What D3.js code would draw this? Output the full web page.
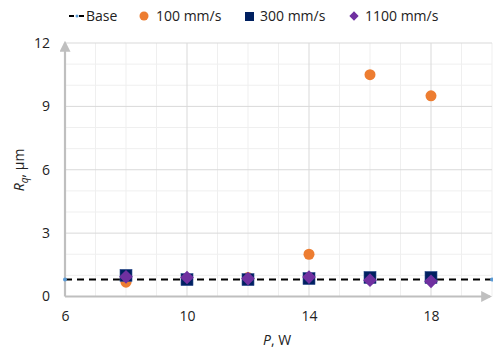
<!DOCTYPE html>
<html>
<head>
<meta charset="utf-8">
<script src="https://cdn.jsdelivr.net/npm/d3@7"></script>
<style>
  body { margin: 0; background: #fff; }
  svg text { font-family: "Open Sans", "Liberation Sans", sans-serif; fill: #222; }
</style>
</head>
<body>
<div id="chart"></div>
<script>
// ---- data ----
const powers = [8, 10, 12, 14, 16, 18];
const baseX = [6, 20];
const baseY = 0.8;
const v100 = [0.68, 0.8, 0.9, 2.0, 10.5, 9.5];
const v300 = [1.0, 0.8, 0.8, 0.85, 0.9, 0.9];
const v1100 = [0.93, 0.9, 0.85, 0.92, 0.77, 0.72];
const xTicks = [6, 10, 14, 18];
const yTicks = [0, 3, 6, 9, 12];

const W = 493, H = 349;
const svg = d3.select('#chart').append('svg').attr('width', W).attr('height', H);

const x = d3.scaleLinear().domain([6, 20]).range([65, 492]);
const y = d3.scaleLinear().domain([0, 12]).range([296.5, 43]);

// Grid
const minorX = d3.range(7, 21, 1).filter(d => (d - 6) % 4 !== 0);
const minorY = d3.range(1, 12.5, 1).filter(d => d % 3 !== 0);
svg.append('g').selectAll('line').data(minorX).enter().append('line')
  .attr('x1', d => x(d)).attr('x2', d => x(d)).attr('y1', y(0)).attr('y2', y(12))
  .attr('stroke', '#efefef').attr('stroke-width', 1);
svg.append('g').selectAll('line').data(minorY).enter().append('line')
  .attr('x1', x(6)).attr('x2', x(20)).attr('y1', d => y(d)).attr('y2', d => y(d))
  .attr('stroke', '#efefef').attr('stroke-width', 1);
svg.append('g').selectAll('line').data(xTicks.slice(1)).enter().append('line')
  .attr('x1', d => x(d)).attr('x2', d => x(d)).attr('y1', y(0)).attr('y2', y(12))
  .attr('stroke', '#d9d9d9').attr('stroke-width', 1);
svg.append('g').selectAll('line').data(yTicks.slice(1)).enter().append('line')
  .attr('x1', x(6)).attr('x2', x(20)).attr('y1', d => y(d)).attr('y2', d => y(d))
  .attr('stroke', '#d9d9d9').attr('stroke-width', 1);

// Axes with arrows
const defs = svg.append('defs');
defs.append('marker').attr('id', 'arr').attr('viewBox', '0 0 10 10')
  .attr('refX', 8).attr('refY', 5).attr('markerWidth', 5).attr('markerHeight', 5)
  .attr('orient', 'auto').append('path').attr('d', 'M0,0 L10,5 L0,10 Z').attr('fill', '#bfbfbf');
svg.append('line').attr('x1', x(6)).attr('x2', x(20) - 2).attr('y1', y(0)).attr('y2', y(0))
  .attr('stroke', '#bfbfbf').attr('stroke-width', 2.2).attr('marker-end', 'url(#arr)');
svg.append('line').attr('x1', x(6)).attr('x2', x(6)).attr('y1', y(0)).attr('y2', y(12))
  .attr('stroke', '#bfbfbf').attr('stroke-width', 2.2).attr('marker-end', 'url(#arr)');

// Tick labels
svg.append('g').attr('transform', `translate(0,${y(0) + 10})`)
  .call(d3.axisBottom(x).tickValues(xTicks).tickSize(0).tickPadding(5))
  .call(g => g.select('.domain').remove())
  .selectAll('text').style('font-size', '14px').style('fill', '#222');
svg.append('g').attr('transform', `translate(${x(6) - 15},0)`)
  .call(d3.axisLeft(y).tickValues(yTicks).tickSize(0).tickPadding(0))
  .call(g => g.select('.domain').remove())
  .selectAll('text').style('font-size', '14px').style('fill', '#222');

// Axis titles
const xt = svg.append('text').attr('x', 277).attr('y', 345).attr('text-anchor', 'middle').style('font-size', '14px');
xt.append('tspan').style('font-style', 'italic').text('P');
xt.append('tspan').text(', W');
const yt = svg.append('text').attr('transform', 'translate(24,170) rotate(-90)').attr('text-anchor', 'middle').style('font-size', '14px');
yt.append('tspan').style('font-style', 'italic').text('R');
yt.append('tspan').style('font-style', 'italic').attr('dy', 4).style('font-size', '10px').text('q');
yt.append('tspan').attr('dy', -4).text(', µm');

// Base line
const line = d3.line().x(d => x(d)).y(() => y(baseY));
svg.append('path').datum(baseX).attr('d', line).attr('fill', 'none')
  .attr('stroke', '#000').attr('stroke-width', 2).attr('stroke-dasharray', '7,5');
svg.selectAll('.bdot').data(baseX).enter().append('circle')
  .attr('cx', d => x(d)).attr('cy', y(baseY)).attr('r', 2).attr('fill', '#5b9bd5');

// Points
const pts = (arr) => powers.map((p, i) => ({ p, v: arr[i] }));
svg.append('g').selectAll('circle').data(pts(v100)).enter().append('circle')
  .attr('cx', d => x(d.p)).attr('cy', d => y(d.v)).attr('r', 5.5).attr('fill', '#ed7d31');
svg.append('g').selectAll('rect').data(pts(v300)).enter().append('rect')
  .attr('x', d => x(d.p) - 6).attr('y', d => y(d.v) - 6).attr('width', 12).attr('height', 12)
  .attr('fill', '#002060').attr('stroke', '#2f4f8f').attr('stroke-width', 0.6);
const diamond = d3.symbol().type(d3.symbolDiamond2).size(120);
svg.append('g').selectAll('path').data(pts(v1100)).enter().append('path')
  .attr('transform', d => `translate(${x(d.p)},${y(d.v)})`).attr('d', diamond).attr('fill', '#7030a0');

// Legend
const lg = svg.append('g').style('font-size', '14px');
lg.append('line').attr('x1', 69).attr('x2', 74).attr('y1', 16).attr('y2', 16).attr('stroke', '#000').attr('stroke-width', 2);
lg.append('line').attr('x1', 79).attr('x2', 84).attr('y1', 16).attr('y2', 16).attr('stroke', '#000').attr('stroke-width', 2);
lg.append('circle').attr('cx', 77).attr('cy', 16).attr('r', 1.5).attr('fill', '#5b9bd5');
lg.append('text').attr('x', 86).attr('y', 21).text('Base');
lg.append('circle').attr('cx', 144).attr('cy', 16).attr('r', 4.5).attr('fill', '#ed7d31');
lg.append('text').attr('x', 156).attr('y', 21).text('100 mm/s');
lg.append('rect').attr('x', 245).attr('y', 12).attr('width', 9).attr('height', 9).attr('fill', '#002060');
lg.append('text').attr('x', 260).attr('y', 21).text('300 mm/s');
lg.append('path').attr('transform', 'translate(354,16)').attr('d', d3.symbol().type(d3.symbolDiamond2).size(55)).attr('fill', '#7030a0');
lg.append('text').attr('x', 365).attr('y', 21).text('1100 mm/s');
</script>
</body>
</html>
